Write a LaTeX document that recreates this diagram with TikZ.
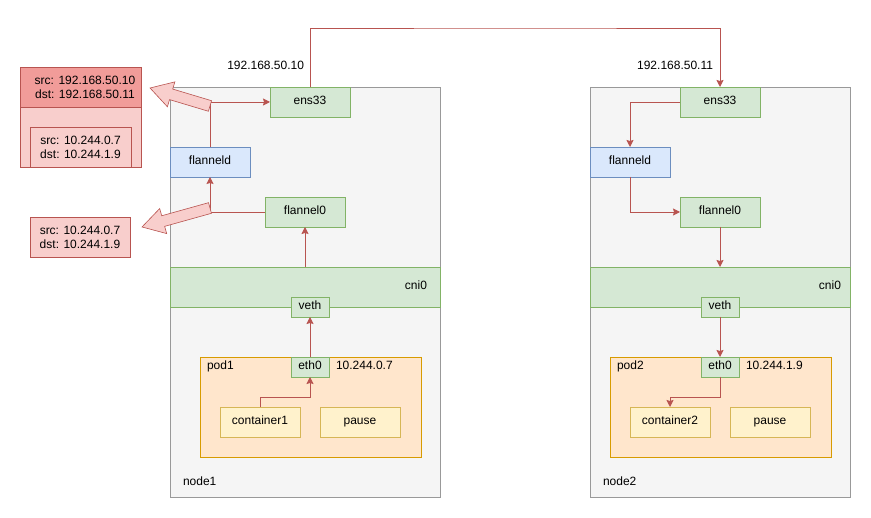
\documentclass[tikz,border=0pt]{standalone}
\usepackage{fontspec}
\setmainfont{Liberation Sans}
\usepackage{tikz}
\usetikzlibrary{positioning,arrows.meta}
\definecolor{hostfill}{HTML}{F5F5F5}
\definecolor{hostline}{HTML}{999999}
\definecolor{greenfill}{HTML}{D5E8D4}
\definecolor{greenline}{HTML}{82B366}
\definecolor{bluefill}{HTML}{DAE8FC}
\definecolor{blueline}{HTML}{6C8EBF}
\definecolor{podfill}{HTML}{FFE6CC}
\definecolor{podline}{HTML}{D79B00}
\definecolor{ctrfill}{HTML}{FFF2CC}
\definecolor{ctrline}{HTML}{D6B656}
\definecolor{pktdark}{HTML}{F19C99}
\definecolor{pktfill}{HTML}{F8CECC}
\definecolor{pktline}{HTML}{B85450}

\begin{document}
\begin{tikzpicture}[x=1pt, y=-1pt, ->, >={Stealth[length=7pt, width=7pt, inset=1pt]},
    font=\fontsize{12}{14}\selectfont,
    every node/.style={inner sep=0pt, outer sep=0pt},
    txt/.style={text height=8.6pt, text depth=2.6pt},
    host/.style={draw=hostline, fill=hostfill, minimum width=#1, minimum height=410},
    dev/.style={txt, draw=greenline, fill=greenfill, minimum width=80, minimum height=30},
    daemon/.style={txt, draw=blueline, fill=bluefill, minimum width=80, minimum height=30},
    bridge/.style={draw=greenline, fill=greenfill, minimum width=#1, minimum height=40},
    port/.style={txt, draw=greenline, fill=greenfill, minimum width=38, minimum height=20},
    pod/.style={draw=podline, fill=podfill, minimum width=221, minimum height=100},
    ctr/.style={txt, draw=ctrline, fill=ctrfill, minimum width=80, minimum height=30},
    pkt/.style={draw=pktline, fill=pktfill, align=center},
    flow/.style={draw=pktline, line width=0.9pt},
    blockarrow/.style={-, draw=pktline, fill=pktfill, line width=0.6pt, line join=miter}]
        \useasboundingbox (0,0) rectangle (871,518);

        \node[host=270] (host_1) at (305,292) {};
        \node[host=260] (host_2) at (720,292) {};
        \node[txt, anchor=west] (name_1) at (183,483) {node1};
        \node[txt, anchor=west] (name_2) at (603,483) {node2};

        \node[bridge=270] (cni0_1) at (305,287) {};
        \node[bridge=260] (cni0_2) at (720,287) {};
        \node[txt, anchor=east] at (427,287) {cni0};
        \node[txt, anchor=east] at (841,287) {cni0};

        \node[dev] (ens33_1) at (310,102) {ens33};
        \node[daemon] (flanneld_1) at (210,162) {flanneld};
        \node[dev] (flannel0_1) at (305,212) {flannel0};
        \node[port] (veth_1) at (310,307) {veth};
        \node[pod] (pod_1) at (310.5,407) {};
        \node[txt, anchor=west] at (207,367) {pod1};
        \node[port] (eth0_1) at (310,367) {eth0};
        \node[txt, anchor=west] at (336,367) {10.244.0.7};
        \node[ctr] (container_1) at (260,422) {container1};
        \node[ctr] (pause_1) [right = 20pt of container_1] {pause};

        \node[dev] (ens33_2) at (720,102) {ens33};
        \node[daemon] (flanneld_2) at (630,162) {flanneld};
        \node[dev] (flannel0_2) at (720,212) {flannel0};
        \node[port] (veth_2) at (720,307) {veth};
        \node[pod] (pod_2) at (720.5,407) {};
        \node[txt, anchor=west] at (617,367) {pod2};
        \node[port] (eth0_2) at (720,367) {eth0};
        \node[txt, anchor=west] at (746,367) {10.244.1.9};
        \node[ctr] (container_2) at (670,422) {container2};
        \node[ctr] (pause_2) [right = 20pt of container_2] {pause};

        \node[txt, anchor=east] (ip_1) at (304,67) {192.168.50.10};
        \node[txt, anchor=east] (ip_2) at (713,67) {192.168.50.11};
        \coordinate (wire) at (515,28);

        \node[pkt, fill=pktdark, minimum width=121, minimum height=40] (pkt_head) at (80.5,87)
          {\hspace{9pt}src: 192.168.50.10\\\hspace{9pt}dst: 192.168.50.11};
        \node[pkt, minimum width=121, minimum height=60] (pkt_body) [below = 0pt of pkt_head] {};
        \node[pkt, minimum width=101, minimum height=40] (pkt_inner) at (80.5,147)
          {src: 10.244.0.7\\dst: 10.244.1.9};
        \node[pkt, minimum width=100, minimum height=40] (pkt_low) at (80,237)
          {src: 10.244.0.7\\dst: 10.244.1.9};

        \draw[flow] (container_1.north) -- ++(0,-10) -| (eth0_1.south);
        \draw[flow] (eth0_1) -- (veth_1);
        \draw[flow] (cni0_1.north -| flannel0_1) -- (flannel0_1.south);
        \draw[flow] (flannel0_1.west) -| (flanneld_1.south);
        \draw[flow] (flanneld_1.north) |- (ens33_1.west);
        \draw[flow] (ens33_1.north) |- (wire) -| (ens33_2.north);
        \draw[flow] (ens33_2.west) -| (flanneld_2.north);
        \draw[flow] (flanneld_2.south) |- (flannel0_2.west);
        \draw[flow] (flannel0_2.south) -- (cni0_2.north -| flannel0_2);
        \draw[flow] (veth_2) -- (eth0_2);
        \draw[flow] (eth0_2.south) -- ++(0,20) -| (container_2.north);

        \draw[blockarrow, shift={(210,106)}, rotate=163.3]
          (0,-5.5) -- (40.6,-5.5) -- (40.6,-13) -- (62.6,0) -- (40.6,13) -- (40.6,5.5) -- (0,5.5) -- cycle;
        \draw[blockarrow, shift={(210,208)}, rotate=-164.4]
          (0,-5.5) -- (48.6,-5.5) -- (48.6,-13) -- (70.6,0) -- (48.6,13) -- (48.6,5.5) -- (0,5.5) -- cycle;
      \end{tikzpicture}
\end{document}
